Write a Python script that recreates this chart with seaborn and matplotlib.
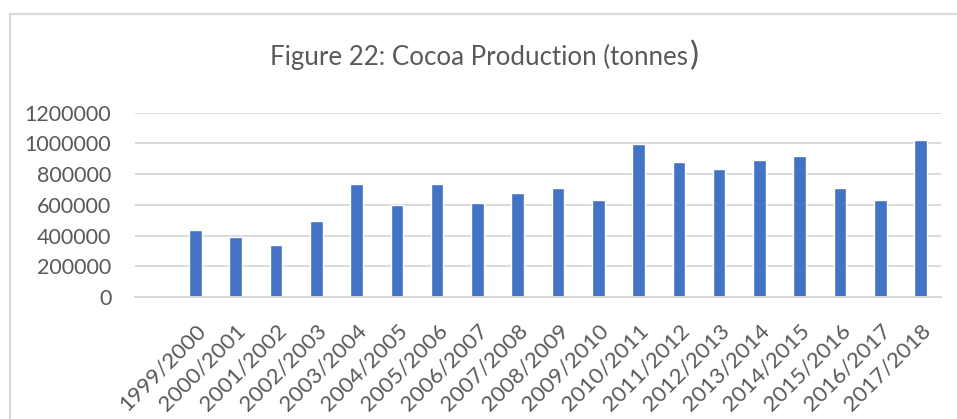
import matplotlib
matplotlib.use("Agg")
import matplotlib.pyplot as plt
import seaborn as sns
import pandas as pd
from matplotlib.patches import Rectangle

seasons = ["1999/2000", "2000/2001", "2001/2002", "2002/2003", "2003/2004",
           "2004/2005", "2005/2006", "2006/2007", "2007/2008", "2008/2009",
           "2009/2010", "2010/2011", "2011/2012", "2012/2013", "2013/2014",
           "2014/2015", "2015/2016", "2016/2017", "2017/2018"]
production = [434000, 388000, 339000, 495000, 733000,
              597000, 738000, 610000, 677000, 710000,
              629000, 996000, 879000, 835000, 890000,
              916000, 710000, 629000, 1022000]
y_ticks = [0, 200000, 400000, 600000, 800000, 1000000, 1200000]

df = pd.DataFrame({"season": seasons, "production": production})

sns.set_theme(style="white")
plt.rcParams["font.family"] = ["Lato", "DejaVu Sans"]

text_color = "#595959"
grid_color = "#d9d9d9"

fig = plt.figure(figsize=(9.57, 4.19), dpi=100)
ax = fig.add_axes([135 / 957, 1 - 297 / 419, (940.7 - 135) / 957, (297 - 112.7) / 419])

sns.barplot(data=df, x="season", y="production", color="#4472C4",
            width=0.31, ax=ax, saturation=1, order=seasons)

ax.set_xlim(-1.5, 18.5)
ax.set_ylim(0, 1200000)
ax.set_yticks(y_ticks)
ax.set_yticklabels([str(v) for v in y_ticks])
ax.yaxis.grid(True, color=grid_color, linewidth=1.4)
ax.set_axisbelow(True)
for side in ["top", "right", "left"]:
    ax.spines[side].set_visible(False)
ax.spines["bottom"].set_color(grid_color)
ax.spines["bottom"].set_linewidth(1.4)
ax.set_xlabel("")
ax.set_ylabel("")
ax.tick_params(axis="y", length=0, pad=17, labelsize=15.5, labelcolor=text_color)
ax.tick_params(axis="x", length=0, pad=17, labelsize=16, labelcolor=text_color)
for lbl in ax.get_xticklabels():
    lbl.set_rotation(45)
    lbl.set_ha("right")
    lbl.set_rotation_mode("anchor")

# Title with an enlarged closing parenthesis
title = fig.text(0.501, 1 - 57 / 419, "Figure 22: Cocoa Production (tonnes", ha="center",
                 va="center", fontsize=18.6, color=text_color)
ax.annotate(")", xy=(1, 0.5), xycoords=title, xytext=(1, 1), textcoords="offset points",
            ha="left", va="center", fontsize=24, color=text_color, annotation_clip=False)

# Chart frame
fig.patches.append(Rectangle((10 / 957, -0.05), 1.05, 1 - 14 / 419 + 0.05,
                             transform=fig.transFigure, fill=False,
                             edgecolor=grid_color, linewidth=1.6))

fig.savefig("out.png", dpi=100)
